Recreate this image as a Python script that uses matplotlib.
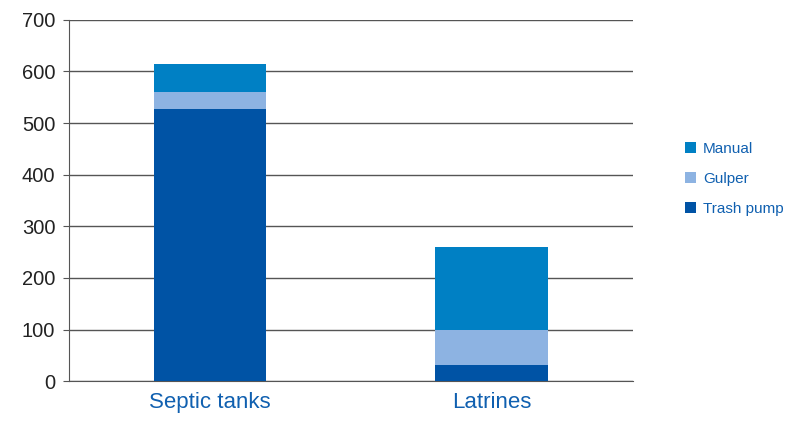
import matplotlib.pyplot as plt
import numpy as np

categories = ["Septic tanks", "Latrines"]
trash_pump = [527, 31]
gulper = [33, 68]
manual = [55, 161]

c_trash = "#0053A5"
c_gulper = "#8DB3E2"
c_manual = "#0080C4"

plt.rcParams['font.family'] = ['Liberation Sans', 'DejaVu Sans']

fig = plt.figure(figsize=(7.86, 4.23), dpi=100)
ax = fig.add_axes([0.088, 0.099, 0.717, 0.854])

x = np.arange(len(categories))
w = 0.4
b1 = ax.bar(x, trash_pump, w, color=c_trash, label="Trash pump", zorder=3)
bottom2 = np.array(trash_pump)
b2 = ax.bar(x, gulper, w, bottom=bottom2, color=c_gulper, label="Gulper", zorder=3)
bottom3 = bottom2 + np.array(gulper)
b3 = ax.bar(x, manual, w, bottom=bottom3, color=c_manual, label="Manual", zorder=3)

ax.set_xlim(-0.5, 1.5)
ax.set_ylim(0, 700)
ax.set_yticks(range(0, 701, 100))
ax.yaxis.grid(True, color="#555555", linewidth=1)
ax.set_axisbelow(True)

ax.set_xticks(x)
ax.set_xticklabels(categories, color="#1060B0", fontsize=16)
ax.tick_params(axis="x", length=0, pad=8)
ax.tick_params(axis="y", labelsize=14.5, length=4, color="#555555", pad=6, labelcolor="#222222")

for s in ["top", "right"]:
    ax.spines[s].set_visible(False)
ax.spines["left"].set_color("#555555")
ax.spines["bottom"].set_color("#555555")

leg = ax.legend(handles=[b3, b2, b1], loc="center left", bbox_to_anchor=(1.068, 0.56),
                frameon=False, fontsize=11, handlelength=0.75, handleheight=0.75,
                labelspacing=1.05, handletextpad=0.45)
for t in leg.get_texts():
    t.set_color("#1060B0")

fig.savefig("out.png", dpi=100)
